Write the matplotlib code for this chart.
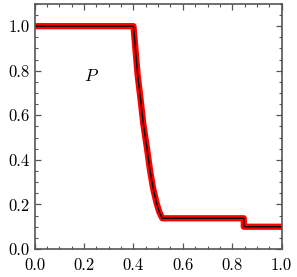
import numpy as np
from matplotlib import pyplot as plt
from matplotlib.ticker import MultipleLocator

# pressure profile (shock tube at late time)
x = [0.0, 0.40, 0.417, 0.43, 0.44, 0.455, 0.467, 0.48, 0.494, 0.505, 0.517, 0.847, 0.847, 1.0]
p = [1.0, 1.0, 0.78, 0.66, 0.56, 0.45, 0.354, 0.27, 0.205, 0.165, 0.138, 0.138, 0.100, 0.100]

plt.rcParams['font.family'] = 'cmr10'
plt.rcParams['mathtext.fontset'] = 'cm'
plt.rcParams['axes.formatter.use_mathtext'] = True

fig = plt.figure(figsize=(2.97, 2.77), dpi=100)
ax = fig.add_axes([0.117, 0.101, 0.831, 0.885])

ax.plot(x, p, color='red', lw=4.5, solid_capstyle='round', solid_joinstyle='round')
ax.plot(x, p, color='black', lw=1.0)

ax.text(0.228, 0.776, '$P$', fontsize=12.5, ha='center', va='center')

ax.set_xlim(0, 1.0)
ax.set_ylim(0, 1.1)
ax.xaxis.set_major_locator(MultipleLocator(0.2))
ax.xaxis.set_minor_locator(MultipleLocator(0.05))
ax.yaxis.set_major_locator(MultipleLocator(0.2))
ax.yaxis.set_minor_locator(MultipleLocator(0.05))
ax.xaxis.set_major_formatter(lambda v, pos: f'{v:.1f}')
ax.yaxis.set_major_formatter(lambda v, pos: f'{v:.1f}')

ax.tick_params(which='both', direction='in', top=True, right=True, color='#555555', labelsize=12)
ax.tick_params(which='major', length=4, width=0.9)
ax.tick_params(which='minor', length=2.5, width=0.8)
ax.tick_params(axis='x', pad=6)
for s in ax.spines.values():
    s.set_color('#555555')
    s.set_linewidth(1.2)

plt.savefig('out.png', dpi=100)
